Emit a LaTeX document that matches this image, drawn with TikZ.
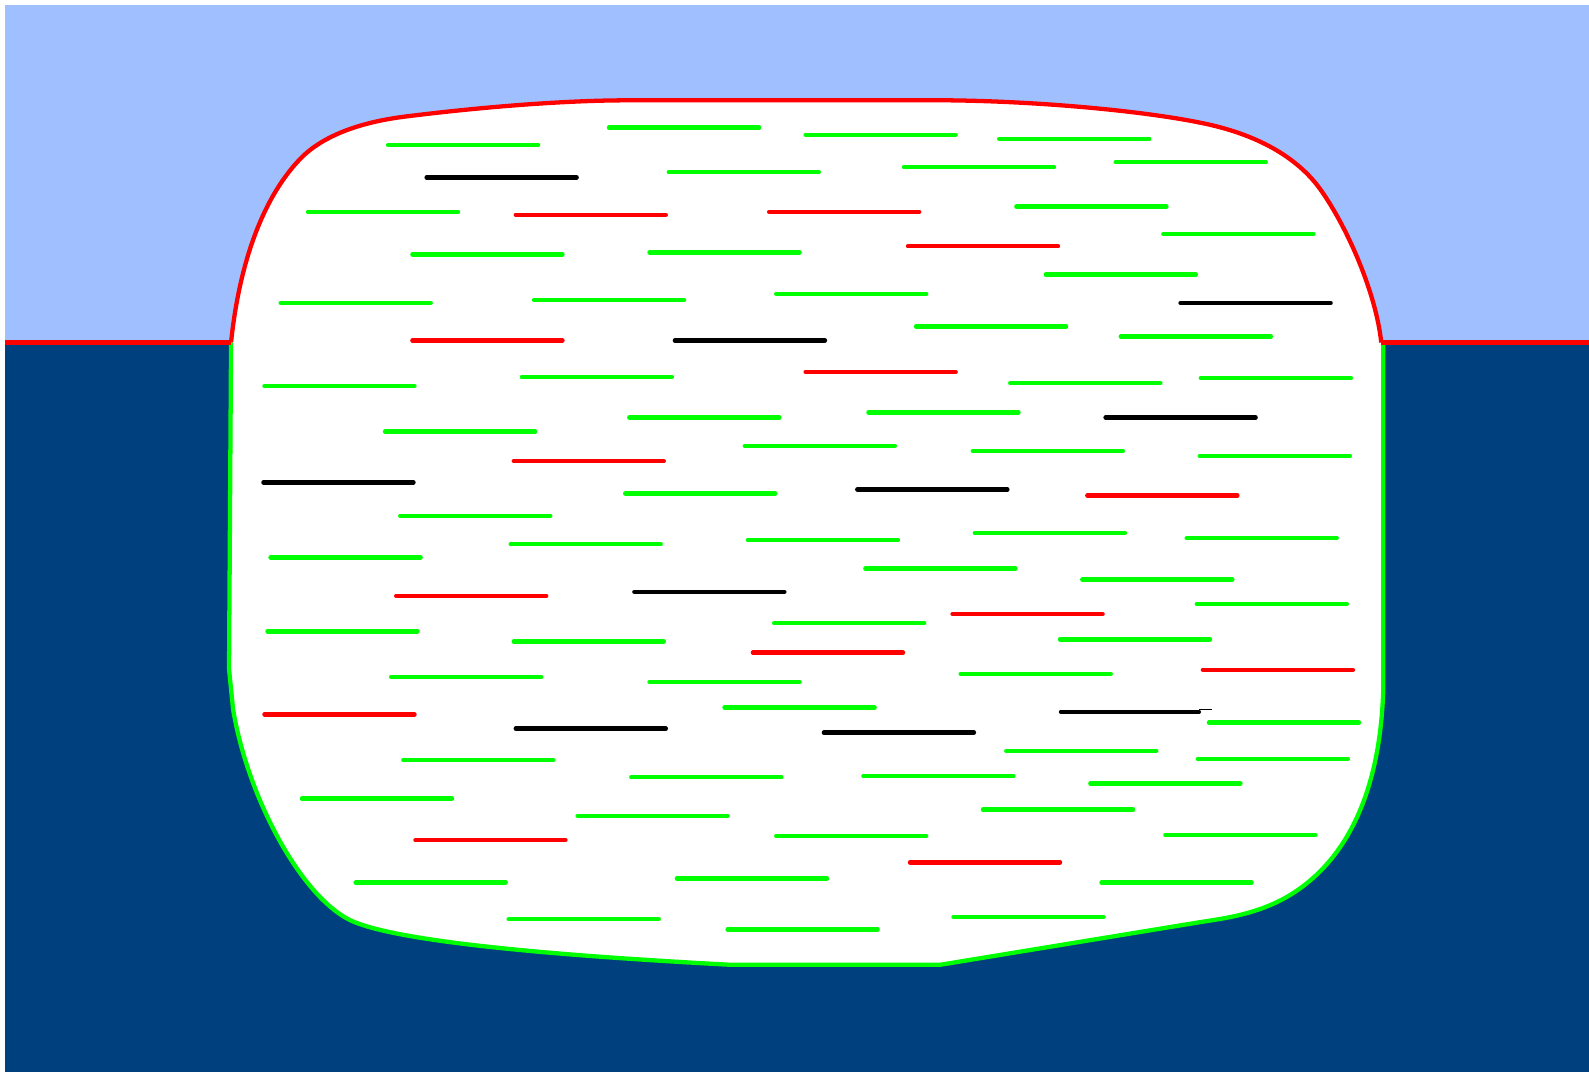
\documentclass[tikz,border=0pt]{standalone}
\definecolor{skyc}{HTML}{A0BFFF}
\definecolor{seac}{HTML}{00407F}
\definecolor{grn}{HTML}{00FF00}
\definecolor{rd}{HTML}{FF0000}
\begin{document}
\begin{tikzpicture}[x=0.01cm,y=-0.01cm,
  seg/.style={line width=1.25pt,line cap=round},
  gseg/.style={seg,draw=grn},
  rseg/.style={seg,draw=rd},
  kseg/.style={seg,draw=black},
  outl/.style={line width=1.2pt,line join=round}]
\useasboundingbox (0,0) rectangle (1568,1058);
\fill[white] (0,0) rectangle (1568,1058);
\fill[skyc] (5,5) rectangle (1568,338);
\fill[seac] (5,338) rectangle (1568,1058);
\def\toppath{(228,338) .. controls (235,270) and (255,200) .. (296,157) .. controls (320,132) and (360,120) .. (400,115) .. controls (480,105) and (560,99) .. (620,99) -- (935,99) .. controls (1030,100) and (1130,110) .. (1184,121) .. controls (1240,132) and (1280,155) .. (1303,187) .. controls (1330,225) and (1358,290) .. (1363,338)}
\def\botrest{(1365,680) .. controls (1362,780) and (1330,850) .. (1270,885) .. controls (1240,902) and (1210,906) .. (1184,910) -- (928,952) -- (720,952) .. controls (550,943) and (400,930) .. (350,910) .. controls (300,890) and (245,790) .. (230,700) -- (226,660)}
\fill[white] \toppath -- (1365,338) -- \botrest -- cycle;
\draw[outl,rd] \toppath;
\draw[outl,grn] (1365,338) -- \botrest -- (228,338);
\draw[outl,rd] (5,338) -- (228,338);
\draw[outl,rd] (1363,338) -- (1568,338);
\foreach \x/\y in {383/143,601/126,795/133,986/137,660/170,892/165,1101/160,304/209,1003/204,1148/231,407/251,641/249,1032/271,277/299,527/296,766/290,904/322,1106/332,261/381,515/372,997/378,1185/373,380/426,621/412,857/407,735/440,960/445,1184/450,617/487,395/509,504/537,738/533,962/526,1171/531,267/550,854/561,1068/572,1181/596,764/615,264/623,507/633,1046/631,386/668,641/673,948/665,715/698,1193/713,398/750,993/741,1182/749,623/767,852/766,1076/773,298/788,570/805,970/799,766/825,1150/824,351/871,668/867,1087/871,502/907,718/917,941/905}
  \draw[gseg] (\x,\y) -- ++(148,0);
\foreach \x/\y in {509/212,759/209,896/243,407/336,795/367,507/455,1073/489,391/588,940/606,743/644,1187/661,261/705,410/829,898/851}
  \draw[rseg] (\x,\y) -- ++(148,0);
\foreach \x/\y in {421/175,1165/299,666/336,1091/412,260/476,846/483,626/584,509/719,813/723}
  \draw[kseg] (\x,\y) -- ++(148,0);
\draw[kseg] (1047,702.5) -- (1183,702.5);
\draw[line width=0.3pt,black] (1183,700) -- (1196,700);
\end{tikzpicture}
\end{document}
